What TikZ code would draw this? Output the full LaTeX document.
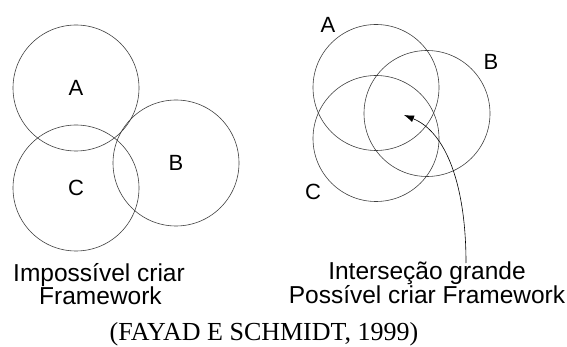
\documentclass[tikz,border=0pt]{standalone}
\usepackage{fontspec}
\setmainfont{Liberation Serif}
\newfontfamily\arialfont{Liberation Sans}
\usetikzlibrary{arrows.meta,positioning}

\begin{document}
\begin{tikzpicture}[x=1pt, y=-1pt,
  setcircle/.style={draw=black!75, line width=0.6pt, circle,
               minimum size=126pt, inner sep=0pt},
  letter/.style={font=\arialfont\fontsize{22}{26}\selectfont, inner sep=0pt},
  caption/.style={font=\arialfont\fontsize{24.5}{28}\selectfont, inner sep=0pt, anchor=base},
  source/.style={font=\fontsize{26}{30}\selectfont, inner sep=0pt, anchor=base},
  arr/.style={-{Latex[length=10pt,width=7pt]}, line width=0.6pt}
]
\useasboundingbox (0,0) rectangle (567,347);

% left: small intersection
\node[setcircle] (leftA) at (76,88) {};
\node[setcircle] (leftC) at (76,188) {};
\node[setcircle] (leftB) at (176,163) {};
\node[letter] (labA1) at (leftA) {A};
\node[letter] (labB1) at (leftB) {B};
\node[letter] (labC1) at (leftC) {C};
\node[caption] (imp1) at (99,281) {Impossível criar};
\node[caption] (imp2) at (100.5,304) {Framework};

% right: large intersection
\node[setcircle] (rightA) at (376,87.5) {};
\node[setcircle] (rightB) at (427,113.5) {};
\node[setcircle] (rightC) at (376,138.5) {};
\node[letter] (labA2) at (328,24.5) {A};
\node[letter] (labB2) at (491,61.5) {B};
\node[letter] (labC2) at (313,192) {C};
\node[caption] (pos1) at (427,279) {Interseção grande};
\node[caption] (pos2) at (427,303) {Possível criar Framework};

\coordinate (tail) at (466,263);
\coordinate (tip) at (404,115);
\draw[arr] (tail) .. controls (466,185) and (446,132) .. (tip);

\node[source] (cite) at (264,340) {(FAYAD E SCHMIDT, 1999)};
\end{tikzpicture}
\end{document}
